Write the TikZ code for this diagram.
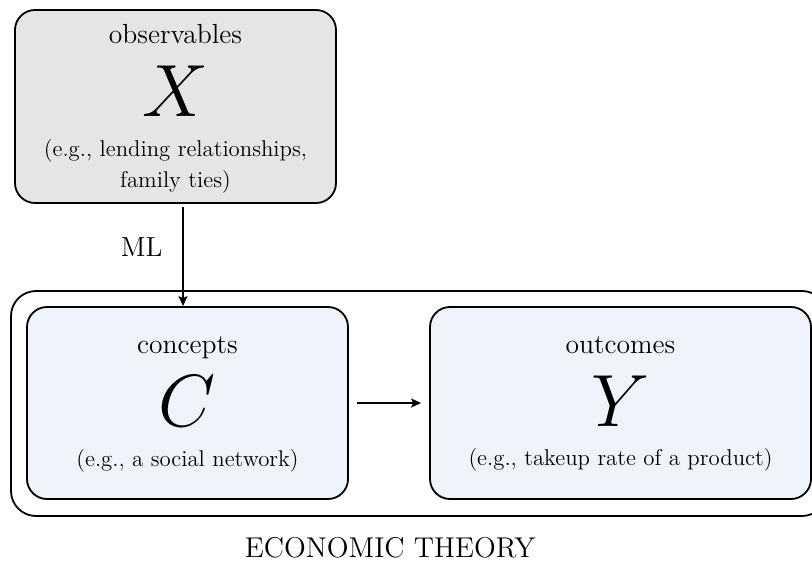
\documentclass[tikz,border=0pt]{standalone}
\usepackage{amsmath,amssymb}
\usepackage{xcolor}
\usepackage{tikz}
\usetikzlibrary{positioning, arrows.meta}
\definecolor{obsgray}{HTML}{E5E5E5}
\definecolor{conblue}{HTML}{EEF3FC}
\tikzstyle{box} = [rectangle, rounded corners=10pt, draw=black, line width=0.9pt, minimum height=96pt]
\tikzstyle{title} = [font=\fontsize{13.8}{16}\selectfont, anchor=base]
\tikzstyle{note} = [font=\fontsize{11.4}{15.5}\selectfont, align=center, anchor=base]
\tikzstyle{sym} = [font=\Huge, anchor=base]
\newcommand{\bigsym}[1]{\scalebox{1.487}{$#1$}}

\tikzstyle{arrow} = [line width=0.7pt, -{Stealth[length=5pt, width=4.5pt, inset=1pt]}]

\begin{document}
\begin{tikzpicture}[x=0.5pt, y=-0.5pt]
        \useasboundingbox (0,0) rectangle (812,561);
        % economic theory frame
        \node (theory) [box, rounded corners=12.5pt, minimum width=408pt, minimum height=112.5pt] at (419,403.5) {};
        \node (theorylabel) [title, font=\fontsize{14.3}{17}\selectfont] at ([xshift=-14.5pt, yshift=-20.3pt]theory.south) {ECONOMIC THEORY};
        % observables
        \node (obs) [box, fill=obsgray, minimum width=160.5pt, minimum height=96.5pt] at (175.5,106.5) {};
        \node (obstitle) [title] at ([yshift=-17pt]obs.north) {observables};
        \node (obssym) [sym] at ([yshift=-53.5pt]obs.north) {\bigsym{X}};
        \node (obsnote) [note] at ([yshift=-89pt]obs.north) {(e.g., lending relationships,\\ family ties)};
        % concepts
        \node (con) [box, fill=conblue, minimum width=160.5pt] at (187.5,403) {};
        \node (contitle) [title] at ([yshift=-23.5pt]con.north) {concepts};
        \node (consym) [sym] at ([yshift=-60pt]con.north) {\bigsym{C}};
        \node (connote) [note] at ([yshift=-80pt]con.north) {(e.g., a social network)};
        % outcomes
        \node (out) [box, fill=conblue, minimum width=190.5pt] at (620.5,403) {};
        \node (outtitle) [title] at ([yshift=-23.5pt]out.north) {outcomes};
        \node (outsym) [sym] at ([yshift=-60pt]out.north) {\bigsym{Y}};
        \node (outnote) [note] at ([yshift=-79.5pt]out.north) {(e.g., takeup rate of a product)};
        % arrows
        \draw [arrow] ([xshift=3.75pt, yshift=-1.5pt]obs.south) -- ([xshift=3.75pt]obs.south |- con.north)
            node (ml) [pos=0.4, left=6.5pt, font=\fontsize{13.8}{16}\selectfont] {ML};
        \draw [arrow, shorten <=4pt, shorten >=4pt] (con) -- (out);
    \end{tikzpicture}
\end{document}
